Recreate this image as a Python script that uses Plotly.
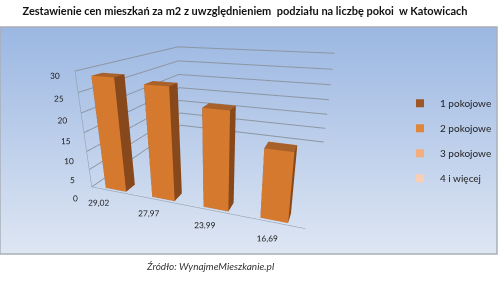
import plotly.graph_objects as go

# ---- data ----
categories = ["29,02", "27,97", "23,99", "16,69"]
values = [29.02, 27.97, 23.99, 16.69]
legend_names = ["1 pokojowe", "2 pokojowe", "3 pokojowe", "4 i więcej"]
legend_colors = ["#9E5626", "#E0873A", "#F2AE7C", "#F6CFB6"]
z_ticks = [0, 5, 10, 15, 20, 25, 30]

title_text = "Zestawienie cen mieszkań za m2 z uwzględnieniem  podziału na liczbę pokoi  w Katowicach"
source_text = "<i>Źródło: WynajmeMieszkanie.pl</i>"

# ---- styles ----
FRONT = "#D5792F"
SIDE = "#87481B"
TOP = "#A8612B"
BAR_W = 0.45
D0, D1 = 0.015, 0.09

fig = go.Figure()

# background panel with gradient
fig.add_trace(go.Scatter(
    x=[0, 497, 497, 0, 0], y=[27, 27, 254, 254, 27],
    mode="lines", fill="toself",
    line=dict(color="#A9B0B9", width=1.5),
    fillgradient=dict(type="vertical",
                      colorscale=[[0, "#DEE6F3"], [1, "#9BB7E2"]]),
    hoverinfo="skip", showlegend=False,
))

# legend entries
for i, (n, c) in enumerate(zip(legend_names, legend_colors)):
    fig.add_trace(go.Scatter(
        x=[None], y=[None], mode="markers", name=n, legendgroup=str(i),
        marker=dict(symbol="square", size=8, color=c),
    ))

# 3D bars as cuboids
xs, ys, zs, I, J, K, fc = [], [], [], [], [], [], []
for idx, v in enumerate(values):
    x0, x1 = idx - BAR_W / 2, idx + BAR_W / 2
    base = len(xs)
    corners = [
        (x0, D0, 0), (x1, D0, 0), (x1, D1, 0), (x0, D1, 0),
        (x0, D0, v), (x1, D0, v), (x1, D1, v), (x0, D1, v),
    ]
    for cx, cy, cz in corners:
        xs.append(cx); ys.append(cy); zs.append(cz)
    faces = [
        ((0, 1, 5), FRONT), ((0, 5, 4), FRONT),
        ((1, 2, 6), SIDE), ((1, 6, 5), SIDE),
        ((4, 5, 6), TOP), ((4, 6, 7), TOP),
        ((3, 2, 6), SIDE), ((3, 6, 7), SIDE),
        ((0, 3, 7), SIDE), ((0, 7, 4), SIDE),
        ((0, 1, 2), SIDE), ((0, 2, 3), SIDE),
    ]
    for (a, b, c), col in faces:
        I.append(base + a); J.append(base + b); K.append(base + c); fc.append(col)

fig.add_trace(go.Mesh3d(
    x=xs, y=ys, z=zs, i=I, j=J, k=K, facecolor=fc, flatshading=True,
    lighting=dict(ambient=1, diffuse=0, specular=0, roughness=1, fresnel=0),
    hoverinfo="skip", showlegend=False, scene="scene",
))

tickfont = dict(family="Lato", size=10, color="#222222")
fig.update_layout(
    width=500, height=293,
    margin=dict(l=0, r=0, t=0, b=0),
    paper_bgcolor="white", plot_bgcolor="rgba(0,0,0,0)",
    xaxis=dict(range=[0, 500], visible=False, domain=[0, 1]),
    yaxis=dict(range=[293, 0], visible=False, domain=[0, 1]),
    title=dict(text=f"<b>{title_text}</b>", x=0.49, xanchor="center",
               y=0.962, yanchor="middle",
               font=dict(family="Lato", size=11, color="#111111")),
    annotations=[dict(text=source_text, x=0.42, y=0.065, xref="paper",
                      yref="paper", showarrow=False,
                      font=dict(family="Lato", size=10, color="#333333"))],
    legend=dict(x=0.80, y=0.52, yanchor="middle", xanchor="left",
                bgcolor="rgba(0,0,0,0)", font=dict(family="Lato", size=10,
                                                    color="#222222"),
                tracegroupgap=6, itemwidth=30),
    scene=dict(
        domain=dict(x=[0.0, 0.86], y=[0.0, 1.0]),
        bgcolor="rgba(0,0,0,0)",
        aspectmode="manual", aspectratio=dict(x=2.0, y=2.0, z=1.1),
        camera=dict(eye=dict(x=1.13, y=-3.42, z=1.06),
                    center=dict(x=0, y=-0.3, z=-0.26)),
        xaxis=dict(range=[-0.5, len(values) - 0.5], tickvals=list(range(len(values))),
                   ticktext=categories, showgrid=False, showbackground=False,
                   showline=True, linecolor="#8C96A3", title=dict(text=""),
                   tickfont=tickfont, zeroline=False, showspikes=False,
                   tickangle=0),
        yaxis=dict(range=[0, 1], showgrid=False, showbackground=False,
                   showticklabels=False, title=dict(text=""), showline=False,
                   zeroline=False, showspikes=False, ticks=""),
        zaxis=dict(range=[0, 30], tickvals=z_ticks, showgrid=True,
                   gridcolor="#8C96A3", showbackground=False, showline=True,
                   linecolor="#8C96A3", title=dict(text=""), tickfont=tickfont,
                   zeroline=False, showspikes=False, tickangle=0),
    ),
)

fig.write_html("out.html", config=dict(displayModeBar=False))
